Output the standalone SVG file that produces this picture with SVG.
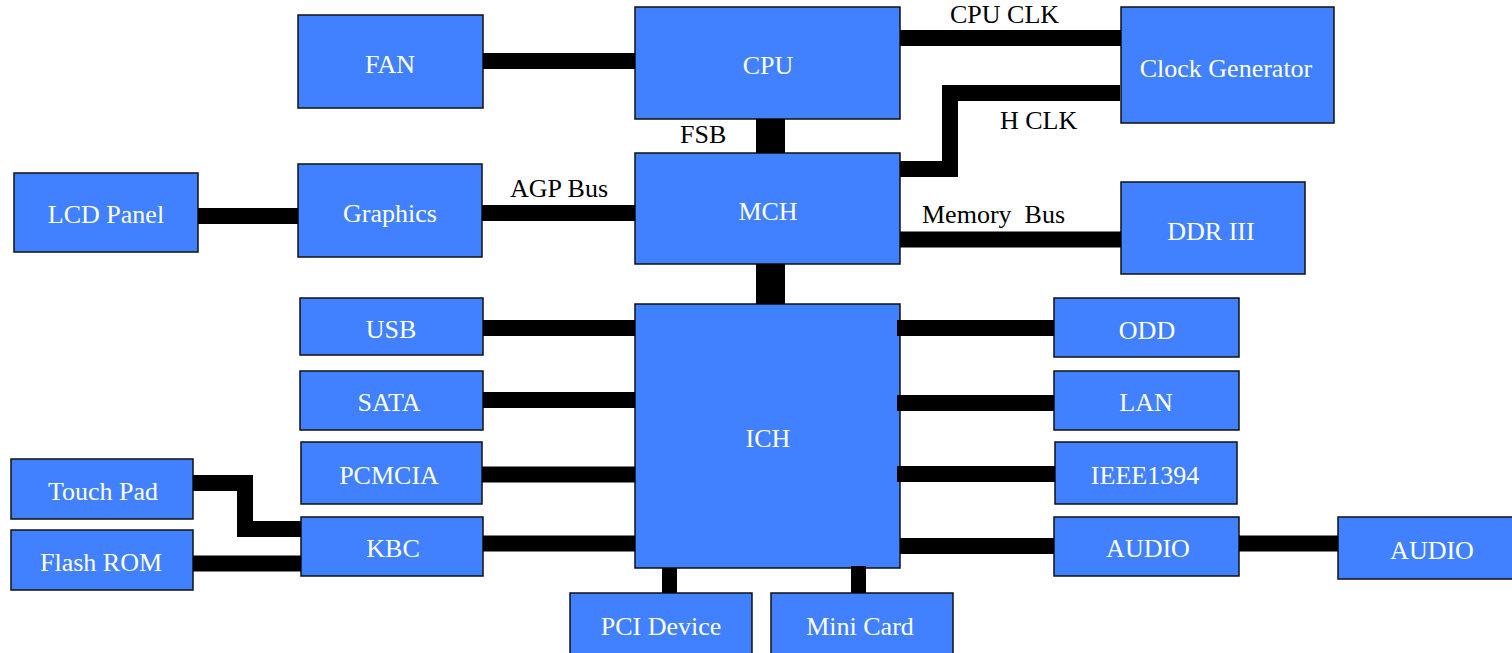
<svg xmlns="http://www.w3.org/2000/svg" width="1512" height="653" viewBox="0 0 1512 653">
<style>
.box{fill:#4181FF;stroke:#111;stroke-width:1.5}
.nt{font-family:"Liberation Serif","Times New Roman",serif;font-size:26px;fill:#fff;text-anchor:middle}
.lt{font-family:"Liberation Serif","Times New Roman",serif;font-size:26px;fill:#000}
.c{stroke:#000;stroke-width:16;fill:none}
.cw{stroke:#000;stroke-width:29;fill:none}
.cn{stroke:#000;stroke-width:15;fill:none}
</style>
<rect width="1512" height="653" fill="#fff"/>
<g id="nodes">
<g id="fan"><rect class="box" x="298" y="15" width="185" height="93"/><text class="nt" x="390" y="73">FAN</text></g>
<g id="cpu"><rect class="box" x="635" y="7" width="265" height="112"/><text class="nt" x="768" y="74">CPU</text></g>
<g id="clockgen"><rect class="box" x="1121" y="7" width="213" height="116"/><text class="nt" x="1226" y="77">Clock Generator</text></g>
<g id="lcd"><rect class="box" x="14" y="173" width="184" height="79"/><text class="nt" x="106" y="223">LCD Panel</text></g>
<g id="graphics"><rect class="box" x="298" y="164" width="184" height="93"/><text class="nt" x="390" y="222">Graphics</text></g>
<g id="mch"><rect class="box" x="635" y="153" width="265" height="111"/><text class="nt" x="768" y="220">MCH</text></g>
<g id="ddr"><rect class="box" x="1121" y="182" width="184" height="92"/><text class="nt" x="1211" y="240">DDR III</text></g>
<g id="usb"><rect class="box" x="300" y="298" width="183" height="57"/><text class="nt" x="391" y="338">USB</text></g>
<g id="sata"><rect class="box" x="300" y="371" width="183" height="59"/><text class="nt" x="389" y="411">SATA</text></g>
<g id="pcmcia"><rect class="box" x="301" y="442" width="181" height="62"/><text class="nt" x="389" y="484">PCMCIA</text></g>
<g id="kbc"><rect class="box" x="301" y="517" width="182" height="59"/><text class="nt" x="393" y="557">KBC</text></g>
<g id="touchpad"><rect class="box" x="11" y="459" width="182" height="60"/><text class="nt" x="103" y="500">Touch Pad</text></g>
<g id="flashrom"><rect class="box" x="11" y="530" width="182" height="60"/><text class="nt" x="101" y="571">Flash ROM</text></g>
<g id="ich"><rect class="box" x="635" y="304" width="265" height="264"/><text class="nt" x="768" y="447">ICH</text></g>
<g id="pci"><rect class="box" x="570" y="593" width="182" height="62"/><text class="nt" x="661" y="635">PCI Device</text></g>
<g id="minicard"><rect class="box" x="771" y="593" width="182" height="62"/><text class="nt" x="860" y="635">Mini Card</text></g>
<g id="odd"><rect class="box" x="1054" y="298" width="185" height="59"/><text class="nt" x="1147" y="339">ODD</text></g>
<g id="lan"><rect class="box" x="1054" y="371" width="185" height="59"/><text class="nt" x="1146" y="411">LAN</text></g>
<g id="ieee"><rect class="box" x="1055" y="442" width="182" height="62"/><text class="nt" x="1145" y="484">IEEE1394</text></g>
<g id="audio1"><rect class="box" x="1054" y="517" width="185" height="59"/><text class="nt" x="1148" y="557">AUDIO</text></g>
<g id="audio2"><rect class="box" x="1338" y="517" width="188" height="62"/><text class="nt" x="1432" y="559">AUDIO</text></g>
</g>
<g id="connectors">
<line class="c" x1="483" y1="61" x2="635" y2="61"/>
<line class="c" x1="900" y1="38" x2="1121" y2="38"/>
<path class="c" d="M1120 93 H950 V169 H900"/>
<line class="cw" x1="770.5" y1="119" x2="770.5" y2="153"/>
<line class="cw" x1="770.5" y1="264" x2="770.5" y2="304"/>
<line class="c" x1="198" y1="216" x2="298" y2="216"/>
<line class="c" x1="482" y1="213" x2="635" y2="213"/>
<line class="c" x1="900" y1="239.5" x2="1121" y2="239.5"/>
<line class="c" x1="483" y1="328" x2="635" y2="328"/>
<line class="c" x1="483" y1="400" x2="635" y2="400"/>
<line class="c" x1="482" y1="474.5" x2="635" y2="474.5"/>
<line class="c" x1="483" y1="543.5" x2="635" y2="543.5"/>
<path class="c" d="M193 483 H245 V529 H301"/>
<line class="c" x1="193" y1="563.5" x2="301" y2="563.5"/>
<line class="c" x1="897" y1="328" x2="1054" y2="328"/>
<line class="c" x1="897" y1="403" x2="1054" y2="403"/>
<line class="c" x1="897" y1="474" x2="1055" y2="474"/>
<line class="c" x1="900" y1="546" x2="1054" y2="546"/>
<line class="c" x1="1239" y1="543.5" x2="1338" y2="543.5"/>
<line class="cn" x1="669.5" y1="568" x2="669.5" y2="593"/>
<line class="cn" x1="858.5" y1="566" x2="858.5" y2="593"/>
</g>
<g id="labels">
<text class="lt" x="950" y="23">CPU CLK</text>
<text class="lt" x="1000" y="129">H CLK</text>
<text class="lt" x="680" y="143">FSB</text>
<text class="lt" x="510" y="197">AGP Bus</text>
<text class="lt" x="922" y="223" xml:space="preserve">Memory  Bus</text>
</g>
</svg>
